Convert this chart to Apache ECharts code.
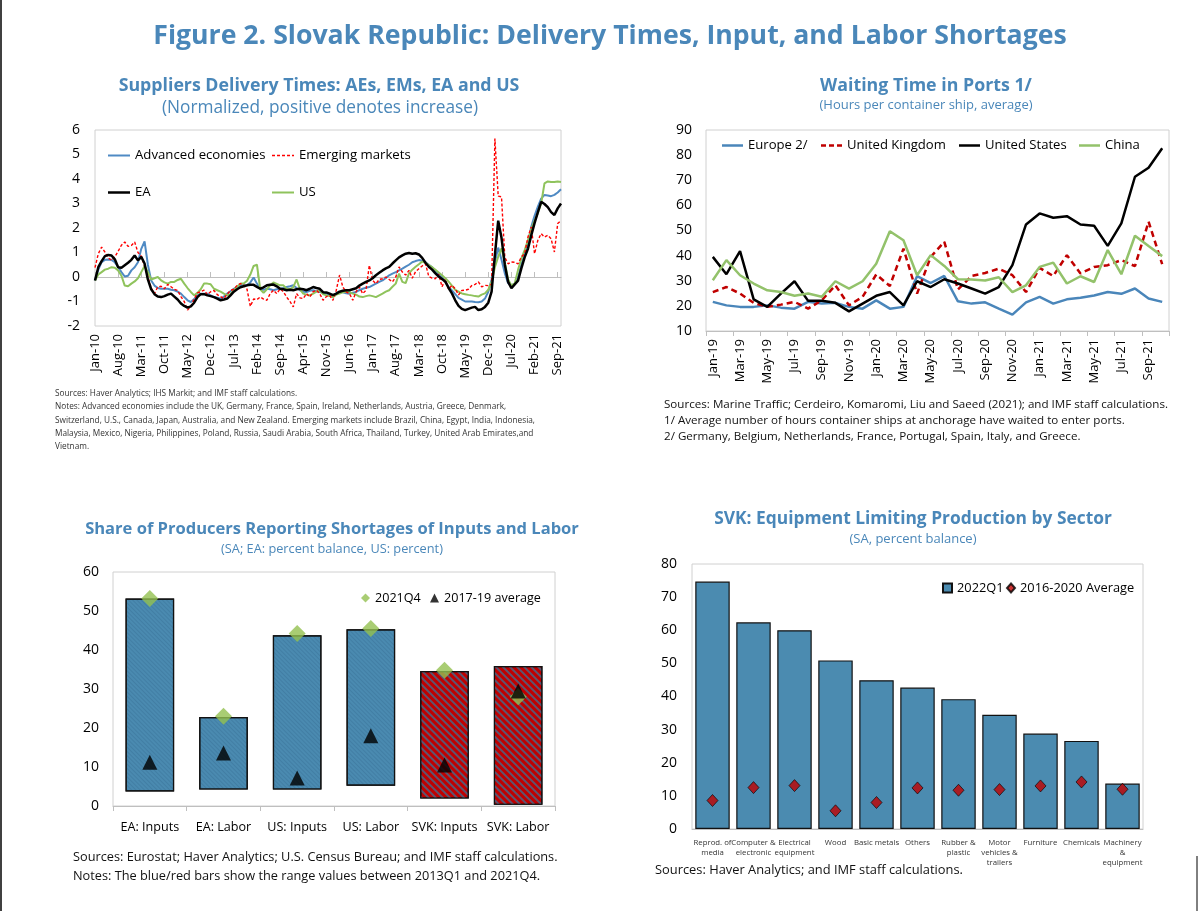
<!DOCTYPE html>
<html><head><meta charset="utf-8">
<script src="https://cdn.jsdelivr.net/npm/echarts@6/dist/echarts.min.js"></script>
<style>html,body{margin:0;padding:0;background:#fff}#c{width:1199px;height:911px}</style>
</head><body><div id="c"></div>
<script>
// ---------- DATA ----------
const monthNames = ['Jan','Feb','Mar','Apr','May','Jun','Jul','Aug','Sep','Oct','Nov','Dec'];
function monthLabels(year, month, count) {
  const out = [];
  for (let k = 0; k < count; k++) {
    const m = (month + k) % 12, y = year + Math.floor((month + k) / 12);
    out.push(monthNames[m] + '-' + String(y).slice(2));
  }
  return out;
}
// Panel 1: Suppliers delivery times (Jan-10 .. Oct-21)
const tlCategories = monthLabels(2010, 0, 142);
const advancedEconomies = [
 -0.14, 0.30, 0.61, 0.70, 0.71, 0.70, 0.60, 0.41, 0.20, 0.02,
 0.05, 0.27, 0.40, 0.60, 1.15, 1.45, 0.50, -0.14, -0.35, -0.45,
 -0.48, -0.48, -0.48, -0.52, -0.54, -0.60, -0.68, -0.82, -0.95, -1.02,
 -0.90, -0.75, -0.68, -0.68, -0.68, -0.75, -0.82, -0.85, -0.88, -0.80,
 -0.68, -0.58, -0.48, -0.40, -0.34, -0.34, -0.34, -0.22, -0.02, -0.27,
 -0.50, -0.52, -0.48, -0.50, -0.54, -0.50, -0.48, -0.45, -0.41, -0.38,
 -0.34, -0.45, -0.54, -0.60, -0.61, -0.56, -0.54, -0.58, -0.61, -0.64,
 -0.68, -0.72, -0.75, -0.68, -0.61, -0.62, -0.66, -0.68, -0.64, -0.61,
 -0.54, -0.48, -0.44, -0.41, -0.34, -0.27, -0.20, -0.14, -0.04, 0.07,
 0.14, 0.20, 0.27, 0.34, 0.42, 0.50, 0.60, 0.65, 0.69, 0.66,
 0.60, 0.50, 0.40, 0.25, 0.10, 0.00, -0.20, -0.40, -0.55, -0.70,
 -0.85, -0.92, -1.00, -1.00, -1.00, -1.02, -1.03, -1.00, -0.88, -0.60,
 -0.10, 0.60, 1.20, 0.70, 0.15, -0.25, -0.33, -0.30, 0.00, 0.50,
 0.95, 1.40, 2.05, 2.50, 2.87, 3.20, 3.35, 3.33, 3.30, 3.35,
 3.45, 3.58];
const emergingMarkets = [
 0.38, 0.95, 1.22, 1.02, 0.78, 0.68, 0.82, 1.05, 1.30, 1.43,
 1.25, 1.29, 1.43, 1.00, 0.85, 0.45, 0.00, -0.45, -0.68, -0.40,
 -0.38, -0.48, -0.30, -0.40, -0.50, -0.55, -0.80, -1.00, -1.35, -1.20,
 -0.90, -0.65, -0.60, -0.54, -0.72, -0.60, -0.55, -0.72, -0.80, -0.88,
 -0.70, -0.55, -0.50, -0.34, -0.27, -0.32, -0.50, -1.20, -0.90, -0.92,
 -0.82, -0.90, -0.95, -0.68, -0.54, -0.68, -0.48, -0.60, -0.82, -1.00,
 -1.22, -0.68, -0.85, -0.88, -0.68, -0.82, -0.60, -0.54, -0.68, -0.95,
 -0.80, -0.75, -0.95, -0.54, 0.08, -0.41, -0.61, -0.68, -0.95, -0.60,
 -0.41, -0.68, -0.54, 0.48, -0.14, -0.27, -0.10, -0.07, 0.00, -0.10,
 -0.20, 0.00, 0.41, 0.20, 0.08, 0.27, -0.05, 0.22, 0.34, 0.45,
 0.54, 0.02, -0.05, -0.07, 0.12, -0.40, -0.10, -0.50, -0.34, -0.48,
 -0.73, -0.55, -0.54, -0.50, -0.35, -0.30, -0.20, -0.40, -0.34, -0.35,
 -0.30, 5.65, 3.30, 3.27, 0.80, 0.54, 0.61, 0.60, 0.54, 0.82,
 0.95, 1.63, 2.04, 0.95, 1.50, 1.77, 1.63, 1.70, 1.56, 1.02,
 2.18, 2.30];
const euroArea = [
 -0.14, 0.40, 0.65, 0.85, 0.90, 0.88, 0.72, 0.40, 0.38, 0.48,
 0.58, 0.70, 0.88, 0.68, 0.82, 0.55, -0.10, -0.50, -0.70, -0.80,
 -0.82, -0.78, -0.72, -0.68, -0.80, -0.92, -1.08, -1.18, -1.25, -1.20,
 -1.05, -0.82, -0.70, -0.70, -0.75, -0.78, -0.82, -0.88, -0.95, -0.92,
 -0.88, -0.75, -0.60, -0.50, -0.42, -0.38, -0.34, -0.32, -0.32, -0.40,
 -0.48, -0.42, -0.34, -0.32, -0.31, -0.38, -0.48, -0.50, -0.54, -0.52,
 -0.54, -0.50, -0.48, -0.50, -0.54, -0.48, -0.41, -0.45, -0.48, -0.62,
 -0.63, -0.68, -0.74, -0.68, -0.60, -0.56, -0.54, -0.54, -0.50, -0.46,
 -0.35, -0.27, -0.20, -0.14, -0.05, 0.07, 0.17, 0.27, 0.35, 0.41,
 0.55, 0.68, 0.80, 0.88, 0.95, 0.98, 0.95, 0.97, 0.92, 0.78,
 0.58, 0.42, 0.30, 0.15, 0.02, -0.08, -0.19, -0.45, -0.67, -0.95,
 -1.18, -1.30, -1.35, -1.30, -1.25, -1.22, -1.35, -1.32, -1.22, -1.05,
 -0.60, 0.90, 2.30, 1.60, 0.50, -0.20, -0.46, -0.30, -0.15, 0.35,
 0.80, 1.15, 1.70, 2.20, 2.65, 3.07, 2.98, 2.85, 2.65, 2.53,
 2.80, 3.00];
const unitedStates = [
 -0.14, 0.10, 0.20, 0.30, 0.34, 0.40, 0.38, 0.27, 0.05, -0.35,
 -0.38, -0.27, -0.18, -0.05, 0.20, 0.45, 0.20, -0.10, -0.05, 0.00,
 -0.14, -0.22, -0.27, -0.20, -0.20, -0.12, -0.07, -0.27, -0.45, -0.61,
 -0.75, -0.65, -0.50, -0.27, -0.27, -0.30, -0.48, -0.54, -0.60, -0.68,
 -0.75, -0.70, -0.54, -0.40, -0.27, -0.27, -0.15, 0.10, 0.45, 0.50,
 -0.50, -0.65, -0.50, -0.34, -0.22, -0.28, -0.34, -0.34, -0.48, -0.50,
 -0.41, -0.10, -0.50, -0.68, -0.72, -0.75, -0.68, -0.60, -0.54, -0.70,
 -0.75, -0.78, -0.82, -0.72, -0.68, -0.62, -0.60, -0.62, -0.68, -0.72,
 -0.80, -0.82, -0.78, -0.75, -0.78, -0.82, -0.75, -0.68, -0.60, -0.54,
 -0.40, -0.27, 0.14, -0.20, -0.25, 0.15, 0.30, 0.42, 0.52, 0.63,
 0.58, 0.49, 0.40, 0.29, 0.18, 0.07, -0.05, -0.19, -0.35, -0.53,
 -0.60, -0.67, -0.70, -0.73, -0.75, -0.78, -0.80, -0.72, -0.67, -0.52,
 -0.20, 0.40, 0.83, 1.17, 0.60, -0.10, -0.35, -0.26, 0.29, 0.75,
 1.10, 1.50, 1.95, 2.30, 2.60, 3.00, 3.82, 3.90, 3.88, 3.88,
 3.90, 3.88];
const tlYTicks = {min: -2, max: 6, interval: 1};

// Panel 2: Waiting time in ports (Jan-19 .. Oct-21)
const trCategories = monthLabels(2019, 0, 34);
const europeWait = [21.6, 20.2, 19.6, 19.6, 20.2, 19.3, 18.9, 21.6, 20.9, 21.2, 19.6, 18.9, 22.2, 18.9, 19.6, 31.8, 29.1, 31.9, 21.8, 20.9, 21.4, 18.9, 16.5, 21.4, 23.6, 20.9, 22.6, 23.2, 24.1, 25.5, 24.8, 26.9, 22.9, 21.6];
const ukWait = [25.5, 27.5, 24.9, 21.2, 19.6, 20.5, 21.6, 18.9, 22.2, 28.2, 20.2, 23.6, 32.5, 27.9, 42.8, 24.9, 39.5, 45.5, 26.5, 31.9, 33.1, 34.8, 32.2, 25.5, 35.1, 31.9, 40.2, 32.9, 35.5, 36.2, 38.2, 35.8, 53.5, 36.6];
const usWait = [39.5, 32.6, 41.8, 22.6, 19.6, 24.9, 29.8, 22.0, 22.0, 21.2, 17.8, 20.9, 24.0, 25.5, 20.2, 29.8, 27.5, 30.6, 28.9, 26.9, 24.9, 27.5, 36.2, 52.4, 56.8, 55.1, 55.7, 52.4, 51.9, 43.9, 52.8, 71.4, 75.0, 82.7];
const chinaWait = [30.2, 38.2, 32.2, 28.9, 26.2, 25.5, 24.0, 24.9, 23.6, 29.8, 26.9, 29.8, 36.8, 49.7, 46.1, 32.2, 40.2, 35.9, 30.6, 30.5, 30.1, 31.4, 25.5, 28.2, 35.5, 37.2, 28.9, 31.8, 29.5, 42.2, 32.6, 47.9, 43.8, 39.8];

// Panel 3: Shortages of inputs and labor
const blCategories = ['EA: Inputs', 'EA: Labor', 'US: Inputs', 'US: Labor', 'SVK: Inputs', 'SVK: Labor'];
const rangeLow  = [3.7, 4.2, 4.2, 5.2, 1.9, 0.3];
const rangeHigh = [53.2, 22.8, 43.8, 45.3, 34.6, 35.9];
const q4_2021 = [53.2, 23.0, 44.2, 45.5, 34.8, 28.0];
const avg2017_19 = [11.2, 13.6, 7.2, 18.0, 10.5, 29.5];

// Panel 4: Equipment limiting production
const brCategories = ['Reprod. of\nmedia', 'Computer &\nelectronic', 'Electrical\nequipment', 'Wood', 'Basic metals', 'Others', 'Rubber &\nplastic', 'Motor\nvehicles &\ntrailers', 'Furniture', 'Chemicals', 'Machinery\n&\nequipment'];
const q1_2022 = [74.7, 62.4, 60.0, 50.9, 44.9, 42.7, 39.2, 34.5, 28.8, 26.6, 13.7];
const avg2016_2020 = [8.6, 12.5, 13.1, 5.5, 8.0, 12.4, 11.7, 11.9, 13.0, 14.2, 12.0];

// ---------- STYLE ----------
const FONT = "'Open Sans', 'Noto Sans', sans-serif";
const TITLE_BLUE = '#4a87b9';
const ctx = document.createElement('canvas').getContext('2d');
function fit(text, weight, width) {
  ctx.font = weight + ' 100px ' + FONT;
  return 100 * width / ctx.measureText(text).width;
}
function centered(text, cx, cy, width, weight, color) {
  const s = fit(text, weight, width);
  return {type: 'text', x: cx, y: cy, silent: true, style: {text, font: weight + ' ' + s.toFixed(2) + 'px ' + FONT, fill: color, textAlign: 'center', textVerticalAlign: 'middle', align: 'center', verticalAlign: 'middle'}};
}
function block(lines, x, ys, refIdx, refWidth, color) {
  const s = fit(lines[refIdx], 'normal', refWidth);
  return lines.map((t, i) => ({type: 'text', x: x, y: ys[i], silent: true, style: {text: t, font: 'normal ' + s.toFixed(2) + 'px ' + FONT, fill: color, textAlign: 'left', textVerticalAlign: 'middle', align: 'left', verticalAlign: 'middle'}}));
}
const tlNotes = [
 'Sources: Haver Analytics; IHS Markit; and IMF staff calculations.',
 'Notes: Advanced economies include the UK, Germany, France, Spain, Ireland, Netherlands, Austria, Greece, Denmark,',
 'Switzerland, U.S., Canada, Japan, Australia, and New Zealand. Emerging markets include Brazil, China, Egypt, India, Indonesia,',
 'Malaysia, Mexico, Nigeria, Philippines, Poland, Russia, Saudi Arabia, South Africa, Thailand, Turkey, United Arab Emirates,and',
 'Vietnam.'];
const trNotes = [
 'Sources: Marine Traffic; Cerdeiro, Komaromi, Liu and Saeed (2021); and IMF staff calculations.',
 '1/ Average number of hours container ships at anchorage have waited to enter ports.',
 '2/ Germany, Belgium, Netherlands, France, Portugal, Spain, Italy, and Greece.'];
const blNotes = [
 'Sources: Eurostat; Haver Analytics; U.S. Census Bureau; and IMF staff calculations.',
 'Notes: The blue/red bars show the range values between 2013Q1 and 2021Q4.'];

const graphics = [].concat(
  [centered('Figure 2. Slovak Republic: Delivery Times, Input, and Labor Shortages', 610, 36, 914, 'bold', TITLE_BLUE),
   centered('Suppliers Delivery Times: AEs, EMs, EA and US', 319, 86, 401, 'bold', TITLE_BLUE),
   centered('(Normalized, positive denotes increase)', 320, 108, 316, 'normal', TITLE_BLUE),
   centered('Waiting Time in Ports 1/', 926, 86, 212, 'bold', TITLE_BLUE),
   centered('(Hours per container ship, average)', 926, 105, 213, 'normal', TITLE_BLUE),
   centered('Share of Producers Reporting Shortages of Inputs and Labor', 332, 529, 494, 'bold', TITLE_BLUE),
   centered('(SA; EA: percent balance, US: percent)', 332, 549, 222, 'normal', TITLE_BLUE),
   centered('SVK: Equipment Limiting Production by Sector', 913, 519, 398, 'bold', TITLE_BLUE),
   centered('(SA, percent balance)', 913, 539, 127, 'normal', TITLE_BLUE)],
  block(tlNotes, 55, [394, 407, 421, 434, 447], 2, 481, '#333'),
  block(trNotes, 664, [405, 421, 437], 0, 504, '#111'),
  block(blNotes, 73, [857, 876], 0, 485, '#111'),
  block(['Sources: Haver Analytics; and IMF staff calculations.'], 655, [870], 0, 308, '#111'),
  [{type: 'line', silent: true, shape: {x1: 1, y1: 0, x2: 1, y2: 911}, style: {stroke: '#000', lineWidth: 1.5}},
   {type: 'line', silent: true, shape: {x1: 1197, y1: 856, x2: 1197, y2: 911}, style: {stroke: '#000', lineWidth: 1}}]
);

const axisText = {fontFamily: FONT, color: '#000'};
const gridBox = {show: true, borderColor: '#d0d0d0', borderWidth: 1, containLabel: false};
// legend entry: left = position of the icon, top = top of the legend box
function legendItem(name, left, top, w, h, icon, fontSize) {
  return {data: [name], left: left, top: top, padding: 0, itemWidth: w, itemHeight: h, icon: icon,
    textStyle: {fontFamily: FONT, fontSize: fontSize, color: '#000'}, selectedMode: false};
}
const dashEM = 'path://M0,0h3v1.5h-3z M5,0h3v1.5h-3z M10,0h3v1.5h-3z M15,0h3v1.5h-3z M20,0h2v1.5h-2z';
const dashUK = 'path://M0,0h5v2.5h-5z M8,0h5v2.5h-5z M16,0h5v2.5h-5z';
const blueBar = {color: '#4a8ab0', borderColor: '#111', borderWidth: 1.2,
  decal: {symbol: 'rect', symbolSize: 1, dashArrayX: [1, 0], dashArrayY: [1, 2], rotation: Math.PI / 4, color: 'rgba(30,70,110,0.18)'}};
const redBar = {color: '#c00000', borderColor: '#111', borderWidth: 1.2,
  decal: {symbol: 'rect', symbolSize: 1, dashArrayX: [1, 0], dashArrayY: [2, 3], rotation: Math.PI / 4, color: 'rgba(80,95,125,0.9)'}};

const option = {
  animation: false,
  backgroundColor: '#fff',
  textStyle: {fontFamily: FONT},
  graphic: graphics,
  grid: [
    Object.assign({left: 95, top: 130, width: 466, height: 196}, gridBox),
    Object.assign({left: 706, top: 130, width: 463, height: 201}, gridBox),
    Object.assign({left: 113, top: 572, width: 442, height: 234}, gridBox),
    Object.assign({left: 692, top: 564, width: 451, height: 265}, gridBox)
  ],
  xAxis: [
    {gridIndex: 0, type: 'category', data: tlCategories, boundaryGap: false, position: 'bottom',
     axisLine: {show: false, onZero: false}, axisTick: {show: false},
     axisLabel: Object.assign({interval: 6, rotate: 90, fontSize: 13, margin: 8}, axisText)},
    {gridIndex: 0, type: 'category', data: tlCategories, boundaryGap: false, position: 'bottom',
     axisLine: {show: true, onZero: true, lineStyle: {color: '#bfbfbf', width: 1}},
     axisTick: {show: true, inside: true, interval: 6, length: 5, lineStyle: {color: '#bfbfbf'}},
     axisLabel: {show: false}},
    {gridIndex: 1, type: 'category', data: trCategories, boundaryGap: true,
     axisLine: {lineStyle: {color: '#bfbfbf'}},
     axisTick: {show: true, interval: 1, length: 5, lineStyle: {color: '#bfbfbf'}},
     axisLabel: Object.assign({interval: 1, rotate: 90, fontSize: 13, margin: 8}, axisText)},
    {gridIndex: 2, type: 'category', data: blCategories, boundaryGap: true,
     axisLine: {lineStyle: {color: '#bfbfbf'}},
     axisTick: {show: true, length: 5, lineStyle: {color: '#bfbfbf'}},
     axisLabel: Object.assign({interval: 0, fontSize: 12.6, margin: 15}, axisText)},
    {gridIndex: 3, type: 'category', data: brCategories, boundaryGap: true,
     axisLine: {lineStyle: {color: '#bfbfbf'}},
     axisTick: {show: false},
     axisLabel: {interval: 0, fontSize: 7.8, lineHeight: 10, margin: 9, color: '#333', fontFamily: FONT}}
  ],
  yAxis: [
    {gridIndex: 0, type: 'value', min: tlYTicks.min, max: tlYTicks.max, interval: tlYTicks.interval,
     axisLine: {show: false}, axisTick: {show: false}, splitLine: {show: false},
     axisLabel: Object.assign({fontSize: 14, margin: 15}, axisText)},
    {gridIndex: 1, type: 'value', min: 10, max: 90, interval: 10,
     axisLine: {show: false}, axisTick: {show: false}, splitLine: {show: false},
     axisLabel: Object.assign({fontSize: 14, margin: 14}, axisText)},
    {gridIndex: 2, type: 'value', min: 0, max: 60, interval: 10,
     axisLine: {show: false}, axisTick: {show: false}, splitLine: {show: false},
     axisLabel: Object.assign({fontSize: 14, margin: 14}, axisText)},
    {gridIndex: 3, type: 'value', min: 0, max: 80, interval: 10,
     axisLine: {show: false}, axisTick: {show: false}, splitLine: {show: false},
     axisLabel: Object.assign({fontSize: 14, margin: 15}, axisText)}
  ],
  legend: [
    legendItem('Advanced economies', 108, 149, 22, 2, 'rect', 13.2),
    legendItem('Emerging markets', 272, 149, 22, 1.5, dashEM, 13.2),
    legendItem('EA', 108, 186, 22, 2.5, 'rect', 13.2),
    legendItem('US', 272, 186, 22, 2, 'rect', 13.2),
    legendItem('Europe 2/', 722, 139, 21, 2.5, 'rect', 13.1),
    legendItem('United Kingdom', 821, 139, 21, 2.5, dashUK, 13.1),
    legendItem('United States', 959, 139, 21, 2.5, 'rect', 13.1),
    legendItem('China', 1079, 139, 21, 2.5, 'rect', 13.1),
    legendItem('2021Q4', 361, 591.5, 9, 9, 'diamond', 12.6),
    legendItem('2017-19 average', 430, 591.5, 9, 9, 'triangle', 12.6),
    legendItem('2022Q1', 942, 581.5, 9, 9, 'rect', 12.8),
    legendItem('2016-2020 Average', 1006, 581.5, 8, 9, 'diamond', 12.8)
  ],
  series: [
    {name: 'Advanced economies', type: 'line', xAxisIndex: 0, yAxisIndex: 0, data: advancedEconomies, symbol: 'none',
     lineStyle: {color: '#4f8ac4', width: 2}, itemStyle: {color: '#4f8ac4'}, z: 2},
    {name: 'US', type: 'line', xAxisIndex: 0, yAxisIndex: 0, data: unitedStates, symbol: 'none',
     lineStyle: {color: '#8fc35c', width: 2}, itemStyle: {color: '#8fc35c'}, z: 2},
    {name: 'Emerging markets', type: 'line', xAxisIndex: 0, yAxisIndex: 0, data: emergingMarkets, symbol: 'none',
     lineStyle: {color: '#ff0000', width: 1.4, type: [3, 2]}, itemStyle: {color: '#ff0000'}, z: 3},
    {name: 'EA', type: 'line', xAxisIndex: 0, yAxisIndex: 0, data: euroArea, symbol: 'none',
     lineStyle: {color: '#000', width: 2.5}, itemStyle: {color: '#000'}, z: 4},

    {name: 'Europe 2/', type: 'line', xAxisIndex: 2, yAxisIndex: 1, data: europeWait, symbol: 'none',
     lineStyle: {color: '#4a86ba', width: 2.5}, itemStyle: {color: '#4a86ba'}},
    {name: 'United Kingdom', type: 'line', xAxisIndex: 2, yAxisIndex: 1, data: ukWait, symbol: 'none',
     lineStyle: {color: '#c00000', width: 2.5, type: [6, 4]}, itemStyle: {color: '#c00000'}},
    {name: 'United States', type: 'line', xAxisIndex: 2, yAxisIndex: 1, data: usWait, symbol: 'none',
     lineStyle: {color: '#000', width: 2.5}, itemStyle: {color: '#000'}},
    {name: 'China', type: 'line', xAxisIndex: 2, yAxisIndex: 1, data: chinaWait, symbol: 'none',
     lineStyle: {color: '#93c26b', width: 2.5}, itemStyle: {color: '#93c26b'}},

    {name: 'rangeBase', type: 'bar', xAxisIndex: 3, yAxisIndex: 2, stack: 'range', barWidth: '66%', silent: true,
     data: rangeLow, itemStyle: {color: 'rgba(0,0,0,0)', borderWidth: 0}},
    {name: 'range', type: 'bar', xAxisIndex: 3, yAxisIndex: 2, stack: 'range', barWidth: '66%', silent: true,
     data: rangeHigh.map((h, i) => ({value: +(h - rangeLow[i]).toFixed(2), itemStyle: i >= 4 ? redBar : blueBar}))},
    {name: '2021Q4', type: 'scatter', xAxisIndex: 3, yAxisIndex: 2, data: q4_2021, symbol: 'diamond', symbolSize: [17, 17],
     itemStyle: {color: '#93c050'}, z: 5},
    {name: '2017-19 average', type: 'scatter', xAxisIndex: 3, yAxisIndex: 2, data: avg2017_19, symbol: 'triangle', symbolSize: [15, 15],
     itemStyle: {color: '#000'}, z: 6},

    {name: '2022Q1', type: 'bar', xAxisIndex: 4, yAxisIndex: 3, data: q1_2022, barWidth: '84%',
     itemStyle: {color: '#4b8bb0', borderColor: '#111', borderWidth: 1.2}},
    {name: '2016-2020 Average', type: 'scatter', xAxisIndex: 4, yAxisIndex: 3, data: avg2016_2020, symbol: 'diamond', symbolSize: [11, 12],
     itemStyle: {color: '#c00000', borderColor: '#000', borderWidth: 0.8}, z: 5}
  ]
};
const chart = echarts.init(document.getElementById('c'), null, {renderer: 'canvas'});
chart.setOption(option);
</script>
</body></html>
